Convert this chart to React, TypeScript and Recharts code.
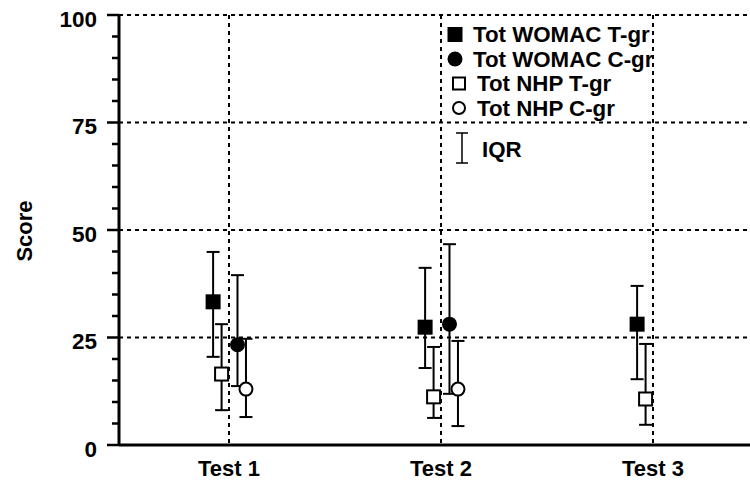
import { ScatterChart, Scatter, XAxis, YAxis, CartesianGrid, ErrorBar, Legend } from 'recharts'

const FONT = '"Liberation Sans", Arial, sans-serif'
const TXT = { fontFamily: FONT, fontWeight: 700, fill: '#000' }

const TESTS = ['Test 1', 'Test 2', 'Test 3']
const TEST_POS = [1, 2, 3]
const X_DOMAIN = [0.4811, 3.4575]
const Y_MAJOR = [0, 25, 50, 75, 100]
const Y_TICKS = [0, 5, 10, 15, 20, 25, 30, 35, 40, 45, 50, 55, 60, 65, 70, 75, 80, 85, 90, 95, 100]

// median and interquartile range per test
const WOMAC_T_MED = [33.3, 27.4, 28.1]
const WOMAC_T_Q1  = [20.5, 17.9, 15.3]
const WOMAC_T_Q3  = [44.9, 41.2, 37.0]

const WOMAC_C_MED = [23.3, 28.1]
const WOMAC_C_Q1  = [13.7, 11.9]
const WOMAC_C_Q3  = [39.5, 46.7]

const NHP_T_MED = [16.5, 11.2, 10.7]
const NHP_T_Q1  = [8.1, 6.3, 4.7]
const NHP_T_Q3  = [28.1, 22.8, 23.5]

const NHP_C_MED = [13.0, 13.0]
const NHP_C_Q1  = [6.5, 4.4]
const NHP_C_Q3  = [24.7, 24.2]

type Marker = 'fsquare' | 'fcircle' | 'osquare' | 'ocircle'

const SERIES: { name: string; med: number[]; q1: number[]; q3: number[]; dodge: number; marker: Marker }[] = [
  { name: 'Tot WOMAC T-gr', med: WOMAC_T_MED, q1: WOMAC_T_Q1, q3: WOMAC_T_Q3, dodge: -0.075, marker: 'fsquare' },
  { name: 'Tot WOMAC C-gr', med: WOMAC_C_MED, q1: WOMAC_C_Q1, q3: WOMAC_C_Q3, dodge: 0.04, marker: 'fcircle' },
  { name: 'Tot NHP T-gr', med: NHP_T_MED, q1: NHP_T_Q1, q3: NHP_T_Q3, dodge: -0.035, marker: 'osquare' },
  { name: 'Tot NHP C-gr', med: NHP_C_MED, q1: NHP_C_Q1, q3: NHP_C_Q3, dodge: 0.08, marker: 'ocircle' },
]

function drawMarker(kind: Marker, cx: number, cy: number, s = 15) {
  switch (kind) {
    case 'fsquare':
      return <rect x={cx - s / 2} y={cy - s / 2} width={s} height={s} fill="#000" />
    case 'fcircle':
      return <circle cx={cx} cy={cy} r={s / 2} fill="#000" />
    case 'osquare':
      return <rect x={cx - s / 2 + 1} y={cy - s / 2 + 1} width={s - 2} height={s - 2} fill="#fff" stroke="#000" strokeWidth={2} />
    default:
      return <circle cx={cx} cy={cy} r={s / 2 - 1} fill="#fff" stroke="#000" strokeWidth={2} />
  }
}

function YTick({ x, y, payload }: any) {
  const major = Y_MAJOR.includes(payload.value)
  return (
    <g>
      <line x1={x - (major ? 12 : 7)} x2={x} y1={y} y2={y} stroke="#000" strokeWidth={2.5} />
      {major && (
        <text x={x - 22} y={y + 11.5} textAnchor="end" style={{ ...TXT, fontSize: 22.5 }}>
          {payload.value}
        </text>
      )}
    </g>
  )
}

function XTick({ x, y, payload }: any) {
  return (
    <text x={x} y={y + 31} textAnchor="middle" style={{ ...TXT, fontSize: 22 }}>
      {TESTS[payload.value - 1]}
    </text>
  )
}

function LegendBox() {
  const rowY = [19.5, 44, 68.5, 93]
  const textX = [33, 33, 37, 37]
  const markX = [15, 15, 19, 19]
  return (
    <svg width={240} height={160} style={{ display: 'block', overflow: 'visible' }}>
      {SERIES.map((s, i) => (
        <g key={s.name}>
          {drawMarker(s.marker, markX[i], rowY[i], i < 2 ? 15 : 14)}
          <text x={textX[i]} y={rowY[i] + 7.5} style={{ ...TXT, fontSize: 22.3 }}>
            {s.name}
          </text>
        </g>
      ))}
      <g stroke="#000" strokeWidth={1.5}>
        <line x1={22} x2={22} y1={118} y2={148} />
        <line x1={16} x2={28} y1={118} y2={118} />
        <line x1={16} x2={28} y1={148} y2={148} />
      </g>
      <text x={42} y={141.5} style={{ ...TXT, fontSize: 22.3 }}>IQR</text>
    </svg>
  )
}

export default function App() {
  return (
    <div style={{ position: 'absolute', left: 0, top: 0, background: '#fff' }}>
      <ScatterChart width={750} height={481} margin={{ top: 15, right: 0, bottom: 0, left: 0 }}>
        <CartesianGrid
          horizontalValues={[25, 50, 75, 100]}
          verticalValues={TEST_POS}
          stroke="#000" strokeWidth={2} strokeDasharray="4 4"
        />
        <XAxis
          type="number" dataKey="x" domain={X_DOMAIN} ticks={TEST_POS} interval={0}
          allowDataOverflow height={36}
          axisLine={{ stroke: '#000', strokeWidth: 3 }} tickLine={false} tickSize={0} tickMargin={0}
          tick={<XTick />}
        />
        <YAxis
          type="number" dataKey="y" domain={[0, 100]} ticks={Y_TICKS} interval={0}
          allowDataOverflow width={119}
          axisLine={{ stroke: '#000', strokeWidth: 3 }} tickLine={false} tickSize={0} tickMargin={0}
          tick={<YTick />}
          label={{
            content: () => (
              <text
                x={32} y={231} textAnchor="middle" transform="rotate(-90 32 231)"
                style={{ ...TXT, fontSize: 22 }}
              >
                Score
              </text>
            ),
          }}
        />
        <Legend
          layout="vertical" align="center" verticalAlign="middle"
          wrapperStyle={{ left: 440, top: 15, width: 240, height: 160 }}
          content={() => <LegendBox />}
        />
        {SERIES.map(s => (
          <Scatter
            key={s.name}
            name={s.name}
            data={s.med.map((m, i) => ({ x: TEST_POS[i] + s.dodge, y: m, iqr: [m - s.q1[i], s.q3[i] - m] }))}
            isAnimationActive={false}
            shape={(p: any) => drawMarker(s.marker, p.cx, p.cy)}
          >
            <ErrorBar dataKey="iqr" direction="y" width={6.5} stroke="#000" strokeWidth={2} isAnimationActive={false} />
          </Scatter>
        ))}
      </ScatterChart>
    </div>
  )
}
